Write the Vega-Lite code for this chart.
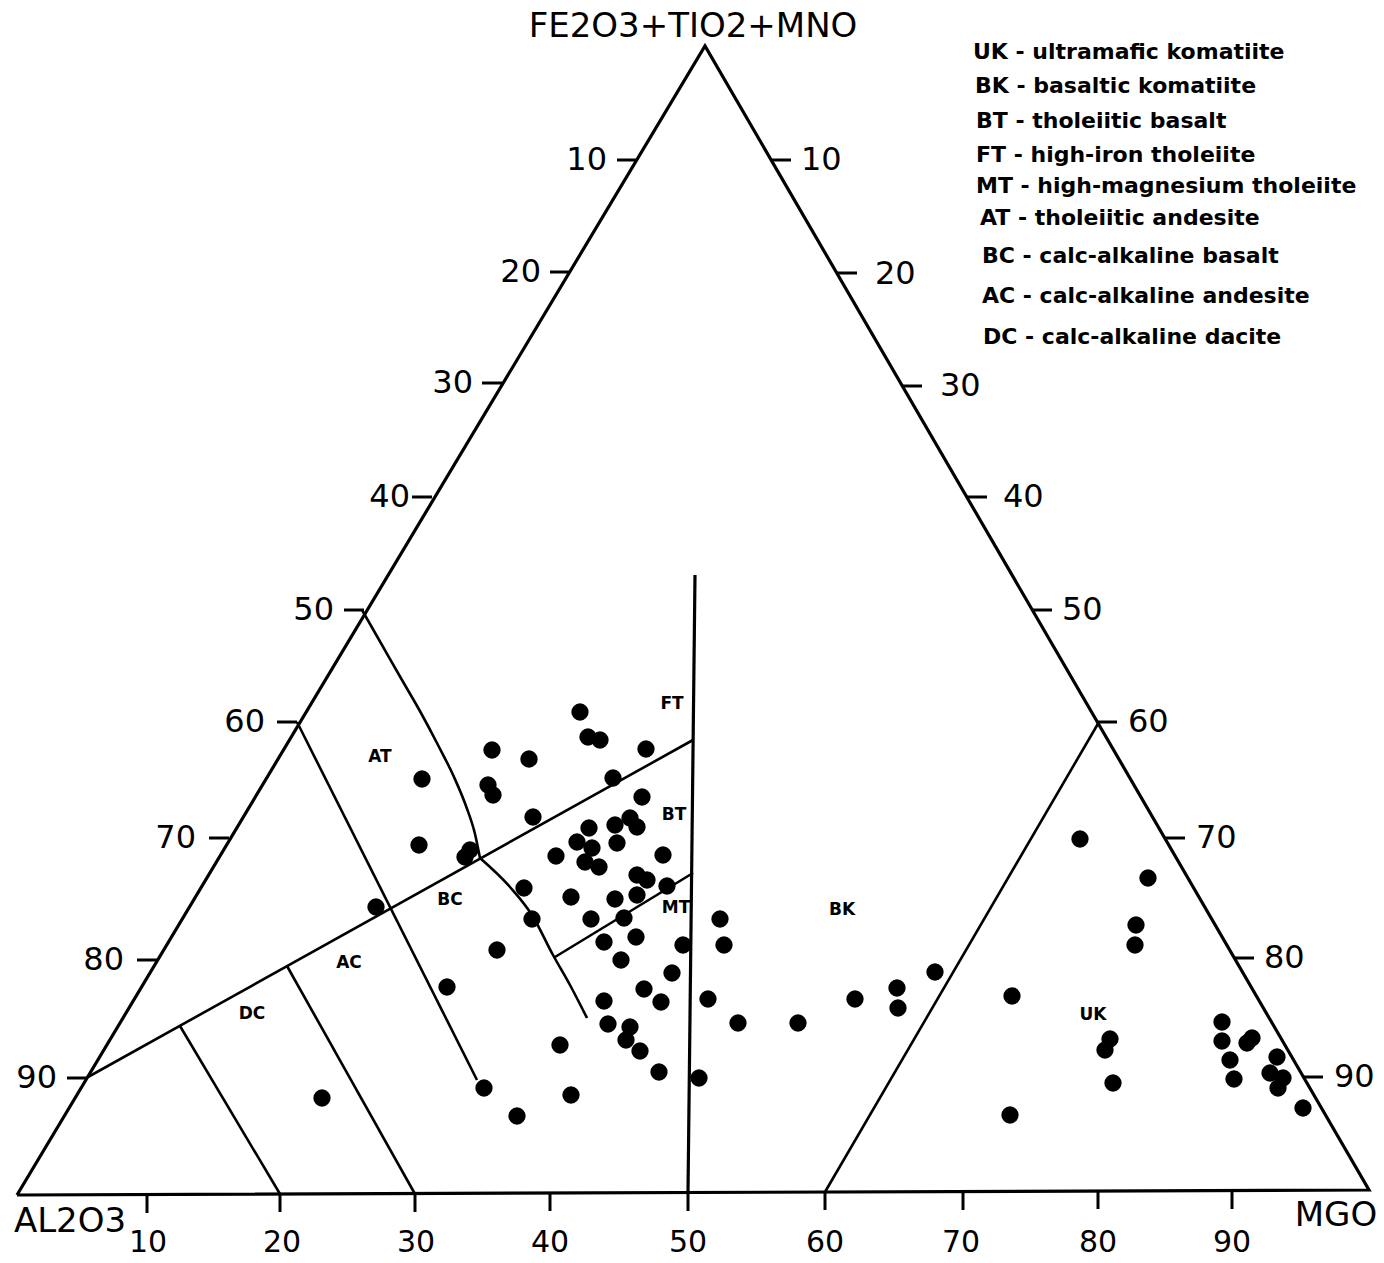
{
  "$schema": "https://vega.github.io/schema/vega-lite/v6.json",
  "width": 1384,
  "height": 1263,
  "autosize": {"type": "fit", "contains": "padding"},
  "padding": 0,
  "background": "white",
  "config": {"view": {"stroke": null}},
  "datasets": {
    "frame": [
      {"i": 0, "x": 17, "y": 1195},
      {"i": 1, "x": 705, "y": 46},
      {"i": 2, "x": 1369, "y": 1190},
      {"i": 3, "x": 17, "y": 1195}
    ],
    "bounds": [
      {"seg": "AT-upper", "i": 0, "x": 362, "y": 610},
      {"seg": "AT-upper", "i": 1, "x": 382, "y": 645},
      {"seg": "AT-upper", "i": 2, "x": 402, "y": 680},
      {"seg": "AT-upper", "i": 3, "x": 421, "y": 713},
      {"seg": "AT-upper", "i": 4, "x": 438, "y": 745},
      {"seg": "AT-upper", "i": 5, "x": 454, "y": 777},
      {"seg": "AT-upper", "i": 6, "x": 466, "y": 806},
      {"seg": "AT-upper", "i": 7, "x": 475, "y": 834},
      {"seg": "AT-upper", "i": 8, "x": 480, "y": 858},
      {"seg": "AT-lower", "i": 0, "x": 297, "y": 722},
      {"seg": "AT-lower", "i": 1, "x": 477, "y": 1080},
      {"seg": "diag", "i": 0, "x": 88, "y": 1077},
      {"seg": "diag", "i": 1, "x": 693, "y": 740},
      {"seg": "AC", "i": 0, "x": 287, "y": 966},
      {"seg": "AC", "i": 1, "x": 415, "y": 1194},
      {"seg": "DC", "i": 0, "x": 180, "y": 1026},
      {"seg": "DC", "i": 1, "x": 280, "y": 1194},
      {"seg": "BC-curve", "i": 0, "x": 480, "y": 858},
      {"seg": "BC-curve", "i": 1, "x": 510, "y": 887},
      {"seg": "BC-curve", "i": 2, "x": 532, "y": 915},
      {"seg": "BC-curve", "i": 3, "x": 553, "y": 955},
      {"seg": "BC-curve", "i": 4, "x": 570, "y": 985},
      {"seg": "BC-curve", "i": 5, "x": 587, "y": 1018},
      {"seg": "MT", "i": 0, "x": 555, "y": 957},
      {"seg": "MT", "i": 1, "x": 693, "y": 873},
      {"seg": "UK", "i": 0, "x": 1099, "y": 722},
      {"seg": "UK", "i": 1, "x": 825, "y": 1192}
    ],
    "vertical": [
      {"i": 0, "x": 695, "y": 575},
      {"i": 1, "x": 688, "y": 1193}
    ],
    "ticks": [
      {"x": 617, "y": 160, "x2": 637, "y2": 160},
      {"x": 550, "y": 272, "x2": 570, "y2": 272},
      {"x": 482, "y": 383, "x2": 502, "y2": 383},
      {"x": 412, "y": 497, "x2": 432, "y2": 497},
      {"x": 344, "y": 610, "x2": 364, "y2": 610},
      {"x": 277, "y": 722, "x2": 297, "y2": 722},
      {"x": 209, "y": 838, "x2": 229, "y2": 838},
      {"x": 137, "y": 960, "x2": 157, "y2": 960},
      {"x": 67, "y": 1078, "x2": 87, "y2": 1078},
      {"x": 771, "y": 160, "x2": 791, "y2": 160},
      {"x": 837, "y": 273, "x2": 857, "y2": 273},
      {"x": 902, "y": 386, "x2": 922, "y2": 386},
      {"x": 967, "y": 497, "x2": 987, "y2": 497},
      {"x": 1032, "y": 610, "x2": 1052, "y2": 610},
      {"x": 1097, "y": 722, "x2": 1117, "y2": 722},
      {"x": 1165, "y": 838, "x2": 1185, "y2": 838},
      {"x": 1234, "y": 958, "x2": 1254, "y2": 958},
      {"x": 1303, "y": 1077, "x2": 1323, "y2": 1077},
      {"x": 147, "y": 1195, "x2": 147, "y2": 1213},
      {"x": 280, "y": 1194, "x2": 280, "y2": 1212},
      {"x": 415, "y": 1194, "x2": 415, "y2": 1212},
      {"x": 550, "y": 1193, "x2": 550, "y2": 1211},
      {"x": 688, "y": 1193, "x2": 688, "y2": 1211},
      {"x": 825, "y": 1192, "x2": 825, "y2": 1210},
      {"x": 963, "y": 1192, "x2": 963, "y2": 1210},
      {"x": 1098, "y": 1191, "x2": 1098, "y2": 1209},
      {"x": 1232, "y": 1191, "x2": 1232, "y2": 1209}
    ],
    "leftLabels": [
      {"t": "10", "x": 607, "y": 160},
      {"t": "20", "x": 541, "y": 272},
      {"t": "30", "x": 473, "y": 383},
      {"t": "40", "x": 410, "y": 497},
      {"t": "50", "x": 334, "y": 610},
      {"t": "60", "x": 265, "y": 722},
      {"t": "70", "x": 196, "y": 838},
      {"t": "80", "x": 124, "y": 960},
      {"t": "90", "x": 57, "y": 1078}
    ],
    "rightLabels": [
      {"t": "10", "x": 801, "y": 160},
      {"t": "20", "x": 875, "y": 274},
      {"t": "30", "x": 940, "y": 386},
      {"t": "40", "x": 1003, "y": 497},
      {"t": "50", "x": 1062, "y": 610},
      {"t": "60", "x": 1128, "y": 722},
      {"t": "70", "x": 1196, "y": 838},
      {"t": "80", "x": 1264, "y": 958},
      {"t": "90", "x": 1334, "y": 1077}
    ],
    "bottomLabels": [
      {"t": "10", "x": 148, "y": 1243},
      {"t": "20", "x": 282, "y": 1243},
      {"t": "30", "x": 416, "y": 1243},
      {"t": "40", "x": 550, "y": 1243},
      {"t": "50", "x": 688, "y": 1243},
      {"t": "60", "x": 825, "y": 1243},
      {"t": "70", "x": 961, "y": 1243},
      {"t": "80", "x": 1098, "y": 1243},
      {"t": "90", "x": 1232, "y": 1243}
    ],
    "apexLabels": [
      {"t": "FE2O3+TIO2+MNO", "x": 693, "y": 27},
      {"t": "AL2O3", "x": 70, "y": 1222},
      {"t": "MGO", "x": 1336, "y": 1216}
    ],
    "regionLabels": [
      {"t": "FT", "x": 672, "y": 704},
      {"t": "BT", "x": 674, "y": 815},
      {"t": "MT", "x": 676, "y": 908},
      {"t": "BK", "x": 842, "y": 910},
      {"t": "AT", "x": 380, "y": 757},
      {"t": "BC", "x": 450, "y": 900},
      {"t": "AC", "x": 349, "y": 963},
      {"t": "DC", "x": 252, "y": 1014},
      {"t": "UK", "x": 1093, "y": 1015}
    ],
    "legend": [
      {"t": "UK - ultramafic komatiite", "x": 973, "y": 52},
      {"t": "BK - basaltic komatiite", "x": 975, "y": 86},
      {"t": "BT - tholeiitic basalt", "x": 976, "y": 121},
      {"t": "FT - high-iron tholeiite", "x": 976, "y": 155},
      {"t": "MT - high-magnesium tholeiite", "x": 976, "y": 186},
      {"t": "AT - tholeiitic andesite", "x": 980, "y": 218},
      {"t": "BC - calc-alkaline basalt", "x": 982, "y": 256},
      {"t": "AC - calc-alkaline andesite", "x": 982, "y": 296},
      {"t": "DC - calc-alkaline dacite", "x": 983, "y": 337}
    ],
    "samples": [
      {"x": 322, "y": 1098}, {"x": 376, "y": 907}, {"x": 447, "y": 987}, {"x": 422, "y": 779},
      {"x": 419, "y": 845}, {"x": 465, "y": 857}, {"x": 470, "y": 850}, {"x": 484, "y": 1088},
      {"x": 517, "y": 1116}, {"x": 497, "y": 950}, {"x": 560, "y": 1045}, {"x": 571, "y": 1095},
      {"x": 580, "y": 712}, {"x": 588, "y": 737}, {"x": 600, "y": 740}, {"x": 646, "y": 749},
      {"x": 492, "y": 750}, {"x": 529, "y": 759}, {"x": 488, "y": 785}, {"x": 493, "y": 795},
      {"x": 613, "y": 778}, {"x": 642, "y": 797}, {"x": 533, "y": 817}, {"x": 589, "y": 828},
      {"x": 615, "y": 825}, {"x": 630, "y": 818}, {"x": 637, "y": 827}, {"x": 577, "y": 842},
      {"x": 617, "y": 843}, {"x": 592, "y": 848}, {"x": 585, "y": 862}, {"x": 599, "y": 867},
      {"x": 556, "y": 856}, {"x": 663, "y": 855}, {"x": 637, "y": 875}, {"x": 647, "y": 880},
      {"x": 667, "y": 886}, {"x": 524, "y": 888}, {"x": 571, "y": 897}, {"x": 615, "y": 899},
      {"x": 637, "y": 895}, {"x": 532, "y": 919}, {"x": 591, "y": 919}, {"x": 624, "y": 918},
      {"x": 604, "y": 942}, {"x": 636, "y": 937}, {"x": 621, "y": 960}, {"x": 683, "y": 945},
      {"x": 672, "y": 973}, {"x": 644, "y": 989}, {"x": 661, "y": 1002}, {"x": 604, "y": 1001},
      {"x": 608, "y": 1024}, {"x": 630, "y": 1027}, {"x": 626, "y": 1040}, {"x": 640, "y": 1051},
      {"x": 659, "y": 1072}, {"x": 699, "y": 1078}, {"x": 720, "y": 919}, {"x": 724, "y": 945},
      {"x": 708, "y": 999}, {"x": 738, "y": 1023}, {"x": 798, "y": 1023}, {"x": 855, "y": 999},
      {"x": 897, "y": 988}, {"x": 898, "y": 1008}, {"x": 935, "y": 972}, {"x": 1012, "y": 996},
      {"x": 1080, "y": 839}, {"x": 1148, "y": 878}, {"x": 1136, "y": 925}, {"x": 1135, "y": 945},
      {"x": 1110, "y": 1039}, {"x": 1105, "y": 1050}, {"x": 1113, "y": 1083}, {"x": 1010, "y": 1115},
      {"x": 1222, "y": 1022}, {"x": 1222, "y": 1041}, {"x": 1247, "y": 1043}, {"x": 1252, "y": 1038},
      {"x": 1230, "y": 1060}, {"x": 1234, "y": 1079}, {"x": 1277, "y": 1057}, {"x": 1270, "y": 1073},
      {"x": 1283, "y": 1078}, {"x": 1278, "y": 1088}, {"x": 1303, "y": 1108}
    ]
  },
  "encoding": {
    "x": {"field": "x", "type": "quantitative", "scale": {"domain": [0, 1384], "nice": false, "zero": false}, "axis": null},
    "y": {"field": "y", "type": "quantitative", "scale": {"domain": [0, 1263], "nice": false, "zero": false, "reverse": true}, "axis": null}
  },
  "layer": [
    {
      "data": {"name": "frame"},
      "mark": {"type": "line", "color": "black", "strokeWidth": 3.2, "strokeJoin": "miter"},
      "encoding": {"order": {"field": "i", "type": "quantitative"}}
    },
    {
      "data": {"name": "bounds"},
      "mark": {"type": "line", "color": "black", "strokeWidth": 2.6, "interpolate": "monotone"},
      "encoding": {"detail": {"field": "seg", "type": "nominal"}, "order": {"field": "i", "type": "quantitative"}}
    },
    {
      "data": {"name": "vertical"},
      "mark": {"type": "line", "color": "black", "strokeWidth": 3.2},
      "encoding": {"order": {"field": "i", "type": "quantitative"}}
    },
    {
      "data": {"name": "ticks"},
      "mark": {"type": "rule", "color": "black", "strokeWidth": 3},
      "encoding": {"x2": {"field": "x2"}, "y2": {"field": "y2"}}
    },
    {
      "data": {"name": "samples"},
      "mark": {"type": "point", "shape": "circle", "filled": true, "color": "black", "opacity": 1, "size": 300}
    },
    {
      "data": {"name": "leftLabels"},
      "mark": {"type": "text", "align": "right", "baseline": "middle", "font": "DejaVu Sans", "fontSize": 32, "color": "black"},
      "encoding": {"text": {"field": "t"}}
    },
    {
      "data": {"name": "rightLabels"},
      "mark": {"type": "text", "align": "left", "baseline": "middle", "font": "DejaVu Sans", "fontSize": 32, "color": "black"},
      "encoding": {"text": {"field": "t"}}
    },
    {
      "data": {"name": "bottomLabels"},
      "mark": {"type": "text", "align": "center", "baseline": "middle", "font": "DejaVu Sans", "fontSize": 30, "color": "black"},
      "encoding": {"text": {"field": "t"}}
    },
    {
      "data": {"name": "apexLabels"},
      "mark": {"type": "text", "align": "center", "baseline": "middle", "font": "DejaVu Sans", "fontSize": 34, "color": "black"},
      "encoding": {"text": {"field": "t"}}
    },
    {
      "data": {"name": "regionLabels"},
      "mark": {"type": "text", "align": "center", "baseline": "middle", "font": "DejaVu Sans", "fontSize": 17, "fontWeight": "bold", "color": "black"},
      "encoding": {"text": {"field": "t"}}
    },
    {
      "data": {"name": "legend"},
      "mark": {"type": "text", "align": "left", "baseline": "middle", "font": "DejaVu Sans", "fontSize": 22, "fontWeight": "bold", "color": "black"},
      "encoding": {"text": {"field": "t"}}
    }
  ]
}
